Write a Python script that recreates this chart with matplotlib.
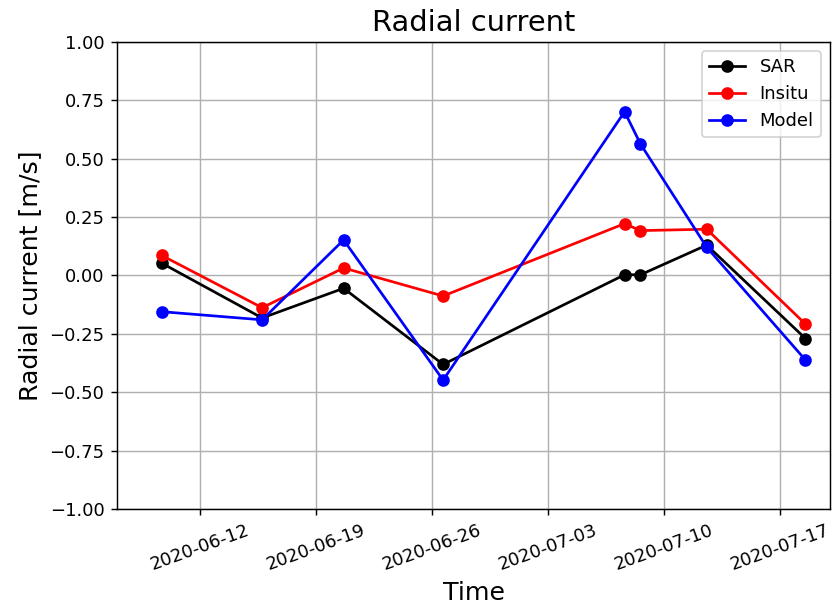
import matplotlib
matplotlib.use("Agg")
import matplotlib.pyplot as plt
import matplotlib.dates as mdates
import pandas as pd

# Radial surface current at the station: SAR retrieval vs in-situ vs model
times = pd.to_datetime([
    "2020-06-09 16:30",
    "2020-06-15 18:00",
    "2020-06-20 16:00",
    "2020-06-26 16:00",
    "2020-07-07 14:40",
    "2020-07-08 13:40",
    "2020-07-12 13:30",
    "2020-07-18 12:30",
])
sar = [0.053, -0.182, -0.055, -0.381, 0.003, 0.003, 0.130, -0.270]
insitu = [0.086, -0.138, 0.032, -0.088, 0.222, 0.192, 0.198, -0.208]
model = [-0.155, -0.190, 0.152, -0.448, 0.701, 0.563, 0.121, -0.362]

DPI = 130
fig, ax = plt.subplots(figsize=(833 / DPI, 607 / DPI), dpi=DPI)
fig.subplots_adjust(left=0.1405, right=0.9964, top=0.931, bottom=0.1614)

ax.plot(times, sar, marker='o', color='black', label='SAR')
ax.plot(times, insitu, marker='o', color='red', label='Insitu')
ax.plot(times, model, marker='o', color='blue', label='Model')

ax.set_xlim(pd.Timestamp("2020-06-07"), pd.Timestamp("2020-07-20"))
ax.set_ylim(-1, 1)
ax.set_yticks([-1, -0.75, -0.5, -0.25, 0, 0.25, 0.5, 0.75, 1])
# weekly ticks on Fridays
ax.xaxis.set_major_locator(mdates.WeekdayLocator(byweekday=mdates.FR))
ax.xaxis.set_major_formatter(mdates.DateFormatter("%Y-%m-%d"))
plt.setp(ax.get_xticklabels(), rotation=20)

ax.set_title("Radial current", fontsize=16)
ax.set_xlabel("Time", fontsize=14)
ax.set_ylabel("Radial current [m/s]", fontsize=14)
ax.grid(True)
ax.legend(loc='upper right')

fig.savefig("out.png", dpi=DPI)
